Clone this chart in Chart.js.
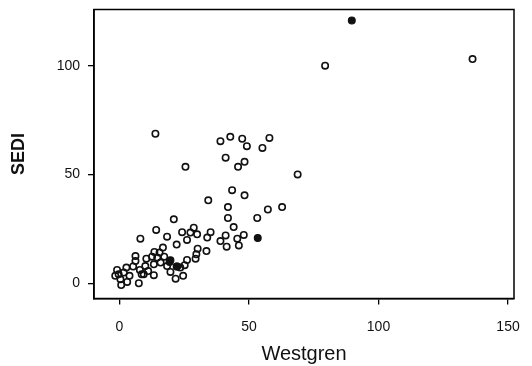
<!DOCTYPE html>
<html>
<head>
<meta charset="utf-8">
<script src="https://cdn.jsdelivr.net/npm/chart.js@4.4.1/dist/chart.umd.min.js"></script>
<style>
  body { margin: 0; background: #fff; }
  canvas { display: block; }
</style>
</head>
<body>
<canvas id="scatterChart" width="532" height="366"></canvas>
<script>
// Westgren (x) vs SEDI (y), open circles
const openX = [13.9, 39, 42.8, 47.4, 49.2, 55.2, 57.9, 79.4, 136.3,
  25.5, 41, 45.8, 48.3, 68.8, 43.5, 48.3, 34.3, 41.9, 57.3, 62.8, 41.9, 53.2, 21, 44.1,
  14.2, 24.2, 28.7, 27.4, 30, 35.2, 33.9, 18.4, 8.1, 26.1, 22.1, 41, 39, 45.5, 48, 46.1, 41.4,
  33.6, 30.2, 29.7, 29.4, 26.1, 25.2, 23.5, 22.1, 24.6, 21.7, 19.7, 19.4, 16.8, 13.5, 15.5,
  12.6, 14.6, 17.3, 15.9, 13.3, 18.4, 10.4, 10, 6.2, 6.2, 5.3, 7.9, 9.4, 7.5, 13.3, 11.1,
  2.7, 1.7, 3.9, -0.9, -1.6, 0.4, 0.7, 3, -0.3, 8.6];
const openY = [68.7, 65.3, 67.3, 66.4, 63, 62.2, 66.8, 100, 103,
  53.5, 57.7, 53.5, 55.8, 50, 42.8, 40.4, 38.1, 35, 33.9, 35, 30, 30, 29.4, 25.8,
  24.5, 23.5, 25.5, 23.3, 22.5, 23.5, 21, 21.4, 20.5, 19.9, 17.8, 22, 19.4, 20.5, 22.2, 17.4, 16.8,
  14.8, 15.9, 13.3, 11.3, 10.7, 8.3, 7.2, 7.7, 3.4, 2.1, 5.2, 9.8, 16.4, 14.4, 14.1,
  12.2, 11.8, 12.2, 9.5, 8.7, 7.9, 11.3, 7.9, 12.5, 10.2, 7.7, 6.1, 4.1, 0, 3.7, 5.6,
  7.2, 4.9, 3.4, 6.1, 3.4, 1.8, -0.8, 0.6, 4.1, 4.1];

// filled circles
const filledX = [89.7, 53.4, 19.7, 22.3];
const filledY = [120.8, 20.8, 10.6, 7.7];

const xTicks = [0, 50, 100, 150];
const yTicks = [0, 50, 100];

function toPoints(xs, ys) {
  return xs.map((x, i) => ({ x: x, y: ys[i] }));
}

// draw the full frame round the plot area
const boxPlugin = {
  id: 'box',
  afterDraw(chart) {
    const a = chart.chartArea;
    const ctx = chart.ctx;
    ctx.save();
    ctx.strokeStyle = '#000';
    ctx.lineWidth = 1.5;
    ctx.strokeRect(a.left, a.top, a.right - a.left, a.bottom - a.top);
    ctx.restore();
  }
};

const tickFont = { family: 'Liberation Sans, Arial, sans-serif', size: 14 };

new Chart(document.getElementById('scatterChart'), {
  type: 'scatter',
  data: {
    datasets: [{
      data: toPoints(openX, openY),
      pointRadius: 3.2,
      borderWidth: 1.6,
      borderColor: '#111',
      backgroundColor: 'rgba(255,255,255,0)'
    }, {
      data: toPoints(filledX, filledY),
      pointRadius: 3.4,
      borderWidth: 1.2,
      borderColor: '#111',
      backgroundColor: '#111'
    }]
  },
  options: {
    responsive: false,
    animation: false,
    layout: { padding: { top: 9.5, right: 18, left: 0, bottom: 0 } },
    plugins: { legend: { display: false }, tooltip: { enabled: false } },
    scales: {
      x: {
        type: 'linear',
        min: -9.8,
        max: 152.3,
        afterFit(s) { s.height = 67.5; s.paddingLeft = 0; s.paddingRight = 0; },
        afterBuildTicks(s) { s.ticks = xTicks.map(v => ({ value: v })); },
        ticks: { font: tickFont, color: '#111', padding: 14, maxRotation: 0 },
        grid: { drawOnChartArea: false, tickLength: 6, color: '#000', lineWidth: 1.3 },
        border: { color: '#000', width: 1.5 },
        title: {
          display: true,
          text: 'Westgren',
          color: '#111',
          font: { family: 'Liberation Sans, Arial, sans-serif', size: 20 },
          padding: { top: 0, bottom: 0 }
        }
      },
      y: {
        min: -7,
        max: 125.8,
        afterFit(s) { s.width = 94; s.paddingTop = 0; s.paddingBottom = 0; },
        afterBuildTicks(s) { s.ticks = yTicks.map(v => ({ value: v })); },
        ticks: { font: tickFont, color: '#111', padding: 8 },
        grid: { drawOnChartArea: false, tickLength: 6, color: '#000', lineWidth: 1.3 },
        border: { color: '#000', width: 1.5 },
        title: {
          display: true,
          text: 'SEDI',
          color: '#111',
          font: { family: 'Liberation Sans, Arial, sans-serif', size: 18, weight: 'bold' },
          padding: { top: 8, bottom: 0 }
        }
      }
    }
  },
  plugins: [boxPlugin]
});
</script>
</body>
</html>
